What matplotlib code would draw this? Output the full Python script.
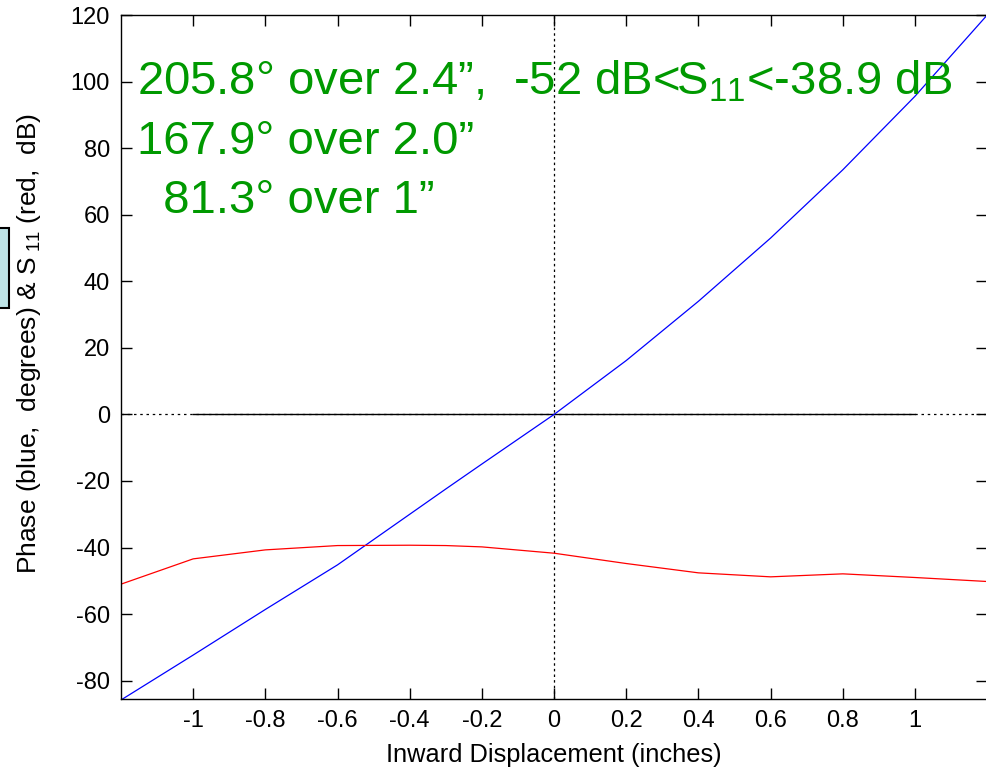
"""
plot.py - 위상/S11 대 안쪽 변위 (MATLAB 스타일 재현)
"""
import matplotlib
matplotlib.use("Agg")
import matplotlib.pyplot as plt
from matplotlib.patches import Rectangle

plt.rcParams["font.family"] = ["Liberation Sans", "DejaVu Sans"]
plt.rcParams["mathtext.fontset"] = "custom"
plt.rcParams["mathtext.rm"] = "Liberation Sans"
plt.rcParams["mathtext.it"] = "Liberation Sans"
plt.rcParams["axes.unicode_minus"] = False

# === 데이터 ===
disp = [-1.2, -1.0, -0.8, -0.6, -0.4, -0.3, -0.2, 0.0, 0.2, 0.4, 0.6, 0.8, 1.0, 1.2]
phase = [-85.8, -72.3, -58.6, -45.2, -30.0, -22.4, -14.9, 0.0, 16.2, 34.0, 53.0, 73.5, 95.6, 120.0]
s11 = [-51.0, -43.4, -40.7, -39.4, -39.3, -39.4, -39.8, -41.7, -44.8, -47.6, -48.8, -47.9, -49.0, -50.2]
ref_span = [-1.0, 1.0]

xticks = [-1, -0.8, -0.6, -0.4, -0.2, 0, 0.2, 0.4, 0.6, 0.8, 1]
xtick_labels = ["-1", "-0.8", "-0.6", "-0.4", "-0.2", "0", "0.2", "0.4", "0.6", "0.8", "1"]
yticks = list(range(-80, 121, 20))

notes = [
    "205.8° over 2.4”,  -52 dB<S$_{11}$<-38.9 dB",
    "167.9° over 2.0”",
    "  81.3° over 1”",
]

GREEN = "#009900"

fig = plt.figure(figsize=(9.86, 7.71), dpi=100)
ax = fig.add_axes([0.1227, 0.0934, 0.8785, 0.8871])

# 기준선 (0 라인, x=0 세로선)
ax.axhline(0, color="black", linestyle=(0, (2, 3)), linewidth=0.9)
ax.plot(ref_span, [0, 0], color="black", linewidth=1.0)
ax.axvline(0, color="black", linestyle=(0, (2, 2.5)), linewidth=0.9)

ax.plot(disp, phase, color="blue", linewidth=0.9)
ax.plot(disp, s11, color="red", linewidth=0.9)

ax.set_xlim(-1.2, 1.2)
ax.set_ylim(-85.5, 120)
ax.set_xticks(xticks)
ax.set_xticklabels(xtick_labels)
ax.set_yticks(yticks)
ax.tick_params(direction="in", length=8, width=1, labelsize=17,
               top=True, right=True, pad=8)
for sp in ax.spines.values():
    sp.set_linewidth(1.0)

ax.set_xlabel("Inward Displacement (inches)", fontsize=18.3, labelpad=8)
ax.set_ylabel("Phase (blue,  degrees) & S$_{\\ 11}$ (red,  dB)", fontsize=19)
ax.yaxis.set_label_coords(-0.09, 0.52)

# 초록색 주석
for i, t in enumerate(notes):
    fig.text(0.139, 0.877 - i * 0.0765, t, color=GREEN, fontsize=34,
             ha="left", va="baseline")

# 왼쪽 잘린 상자
fig.patches.append(Rectangle((-0.01, 1 - 308 / 771), 0.019, 80 / 771,
                             transform=fig.transFigure, facecolor="#bde3e6",
                             edgecolor="black", linewidth=1.5))

fig.savefig("out.png", dpi=100)
